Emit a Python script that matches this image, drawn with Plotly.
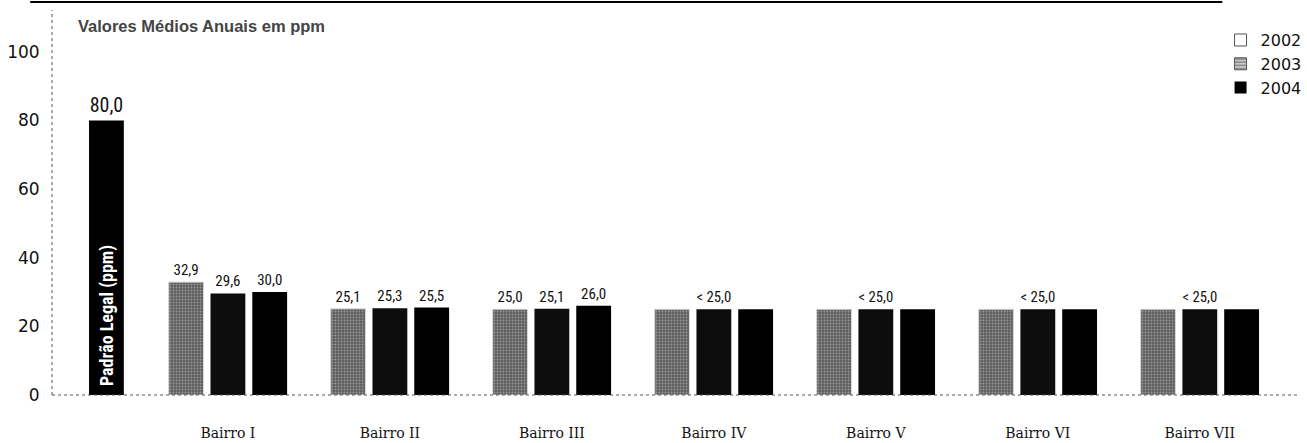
import plotly.graph_objects as go

# ---- data ----
categories = ["Bairro I", "Bairro II", "Bairro III", "Bairro IV", "Bairro V", "Bairro VI", "Bairro VII"]
group_pos = [1, 2, 3, 4, 5, 6, 7]
years = ["2002", "2003", "2004"]
values_2002 = [32.9, 25.1, 25.0, 25.0, 25.0, 25.0, 25.0]
values_2003 = [29.6, 25.3, 25.1, 25.0, 25.0, 25.0, 25.0]
values_2004 = [30.0, 25.5, 26.0, 25.0, 25.0, 25.0, 25.0]
labels_2002 = ["32,9", "25,1", "25,0", "", "", "", ""]
labels_2003 = ["29,6", "25,3", "25,1", "< 25,0", "< 25,0", "< 25,0", "< 25,0"]
labels_2004 = ["30,0", "25,5", "26,0", "", "", "", ""]
standard_name = "Padrão Legal (ppm)"
standard_pos = [0.25]
standard_value = [80.0]
standard_label = ["80,0"]
y_ticks = [0, 20, 40, 60, 80, 100]
title_text = "Valores Médios Anuais em ppm"

# ---- styling ----
BAR_W = 0.215
PITCH = 0.258
NARROW = "Liberation Sans Narrow, Roboto Condensed, Arial Narrow, sans-serif"
lab_font = dict(family=NARROW, size=15, color="#111")

fig = go.Figure()

fig.add_trace(go.Bar(
    x=standard_pos, y=standard_value, width=BAR_W, offset=-BAR_W / 2,
    marker=dict(color="#000000", line=dict(width=0)),
    text=standard_label, textposition="outside",
    textfont=dict(family=NARROW, size=20, color="#111"),
    cliponaxis=False, showlegend=False, name=standard_name,
))

series = [
    (values_2002, labels_2002, -PITCH - BAR_W / 2,
     dict(color="#6e6e6e", line=dict(width=1, color="#d8d8d8"),
          pattern=dict(shape=".", fgcolor="#cfcfcf", bgcolor="#5e5e5e", size=3, solidity=0.3))),
    (values_2003, labels_2003, -BAR_W / 2, dict(color="#0d0d0d", line=dict(width=0))),
    (values_2004, labels_2004, PITCH - BAR_W / 2, dict(color="#000000", line=dict(width=0))),
]
for yr, (vals, labs, off, mk) in zip(years, series):
    fig.add_trace(go.Bar(
        x=group_pos, y=vals, width=BAR_W, offset=off, marker=mk,
        text=labs, textposition="outside", textfont=lab_font,
        cliponaxis=False, showlegend=False, name=yr,
    ))

# legend entries (appearance as printed in the legend box)
legend_markers = [
    dict(color="#ffffff", line=dict(width=1, color="#555")),
    dict(color="#9a9a9a", line=dict(width=1, color="#555"),
         pattern=dict(shape="-", fgcolor="#333", bgcolor="#c8c8c8", size=4, solidity=0.4)),
    dict(color="#000000", line=dict(width=0)),
]
for yr, mk in zip(years, legend_markers):
    fig.add_trace(go.Bar(x=[None], y=[None], name=yr, marker=mk, showlegend=True))

# rotated label inside the standard bar
fig.add_annotation(
    x=standard_pos[0], y=2, xref="x", yref="y", text=standard_name, textangle=-90,
    showarrow=False, xanchor="center", yanchor="bottom",
    font=dict(family=NARROW, size=18, color="#ffffff", weight="bold"),
)

fig.add_annotation(
    x=0.019, y=0.958, xref="paper", yref="paper", text=title_text, showarrow=False,
    xanchor="left", yanchor="middle",
    font=dict(family="Liberation Sans, Arial, sans-serif", size=16.5, color="#444", weight="bold"),
)

# axis lines (dotted, as in the print) and frame line on top
fig.add_shape(type="line", xref="paper", yref="paper", x0=0, x1=0, y0=0, y1=1,
              line=dict(color="#555", width=1, dash="dot"))
fig.add_shape(type="line", xref="paper", yref="paper", x0=0, x1=1, y0=0, y1=0,
              line=dict(color="#555", width=1, dash="dot"))
fig.add_shape(type="line", xref="paper", yref="paper", x0=-0.0175, x1=0.94, y0=1.021, y1=1.021,
              line=dict(color="#000", width=2))

fig.update_layout(
    width=1307, height=443,
    margin=dict(l=52, r=0, t=10, b=48),
    paper_bgcolor="white", plot_bgcolor="white",
    barmode="overlay",
    showlegend=True,
    legend=dict(x=0.9386, y=0.966, xanchor="left", yanchor="top",
                font=dict(family="DejaVu Sans, sans-serif", size=16, color="#111"),
                bgcolor="rgba(0,0,0,0)", tracegroupgap=2),
    xaxis=dict(range=[-0.086, 7.6], tickvals=group_pos, ticktext=categories,
               showgrid=False, zeroline=False, showline=False,
               ticks="outside", ticklen=25, tickcolor="rgba(0,0,0,0)",
               tickfont=dict(family="DejaVu Serif, serif", size=14, color="#111")),
    yaxis=dict(range=[0, 112.2], tickvals=y_ticks, showgrid=False, zeroline=False, showline=False,
               ticks="outside", ticklen=8, tickcolor="rgba(0,0,0,0)",
               tickfont=dict(family="DejaVu Sans, sans-serif", size=17, color="#111")),
)

fig.write_html("out.html", config={"displayModeBar": False},
               post_script="document.body.style.margin='0px';document.body.style.overflow='hidden';")
